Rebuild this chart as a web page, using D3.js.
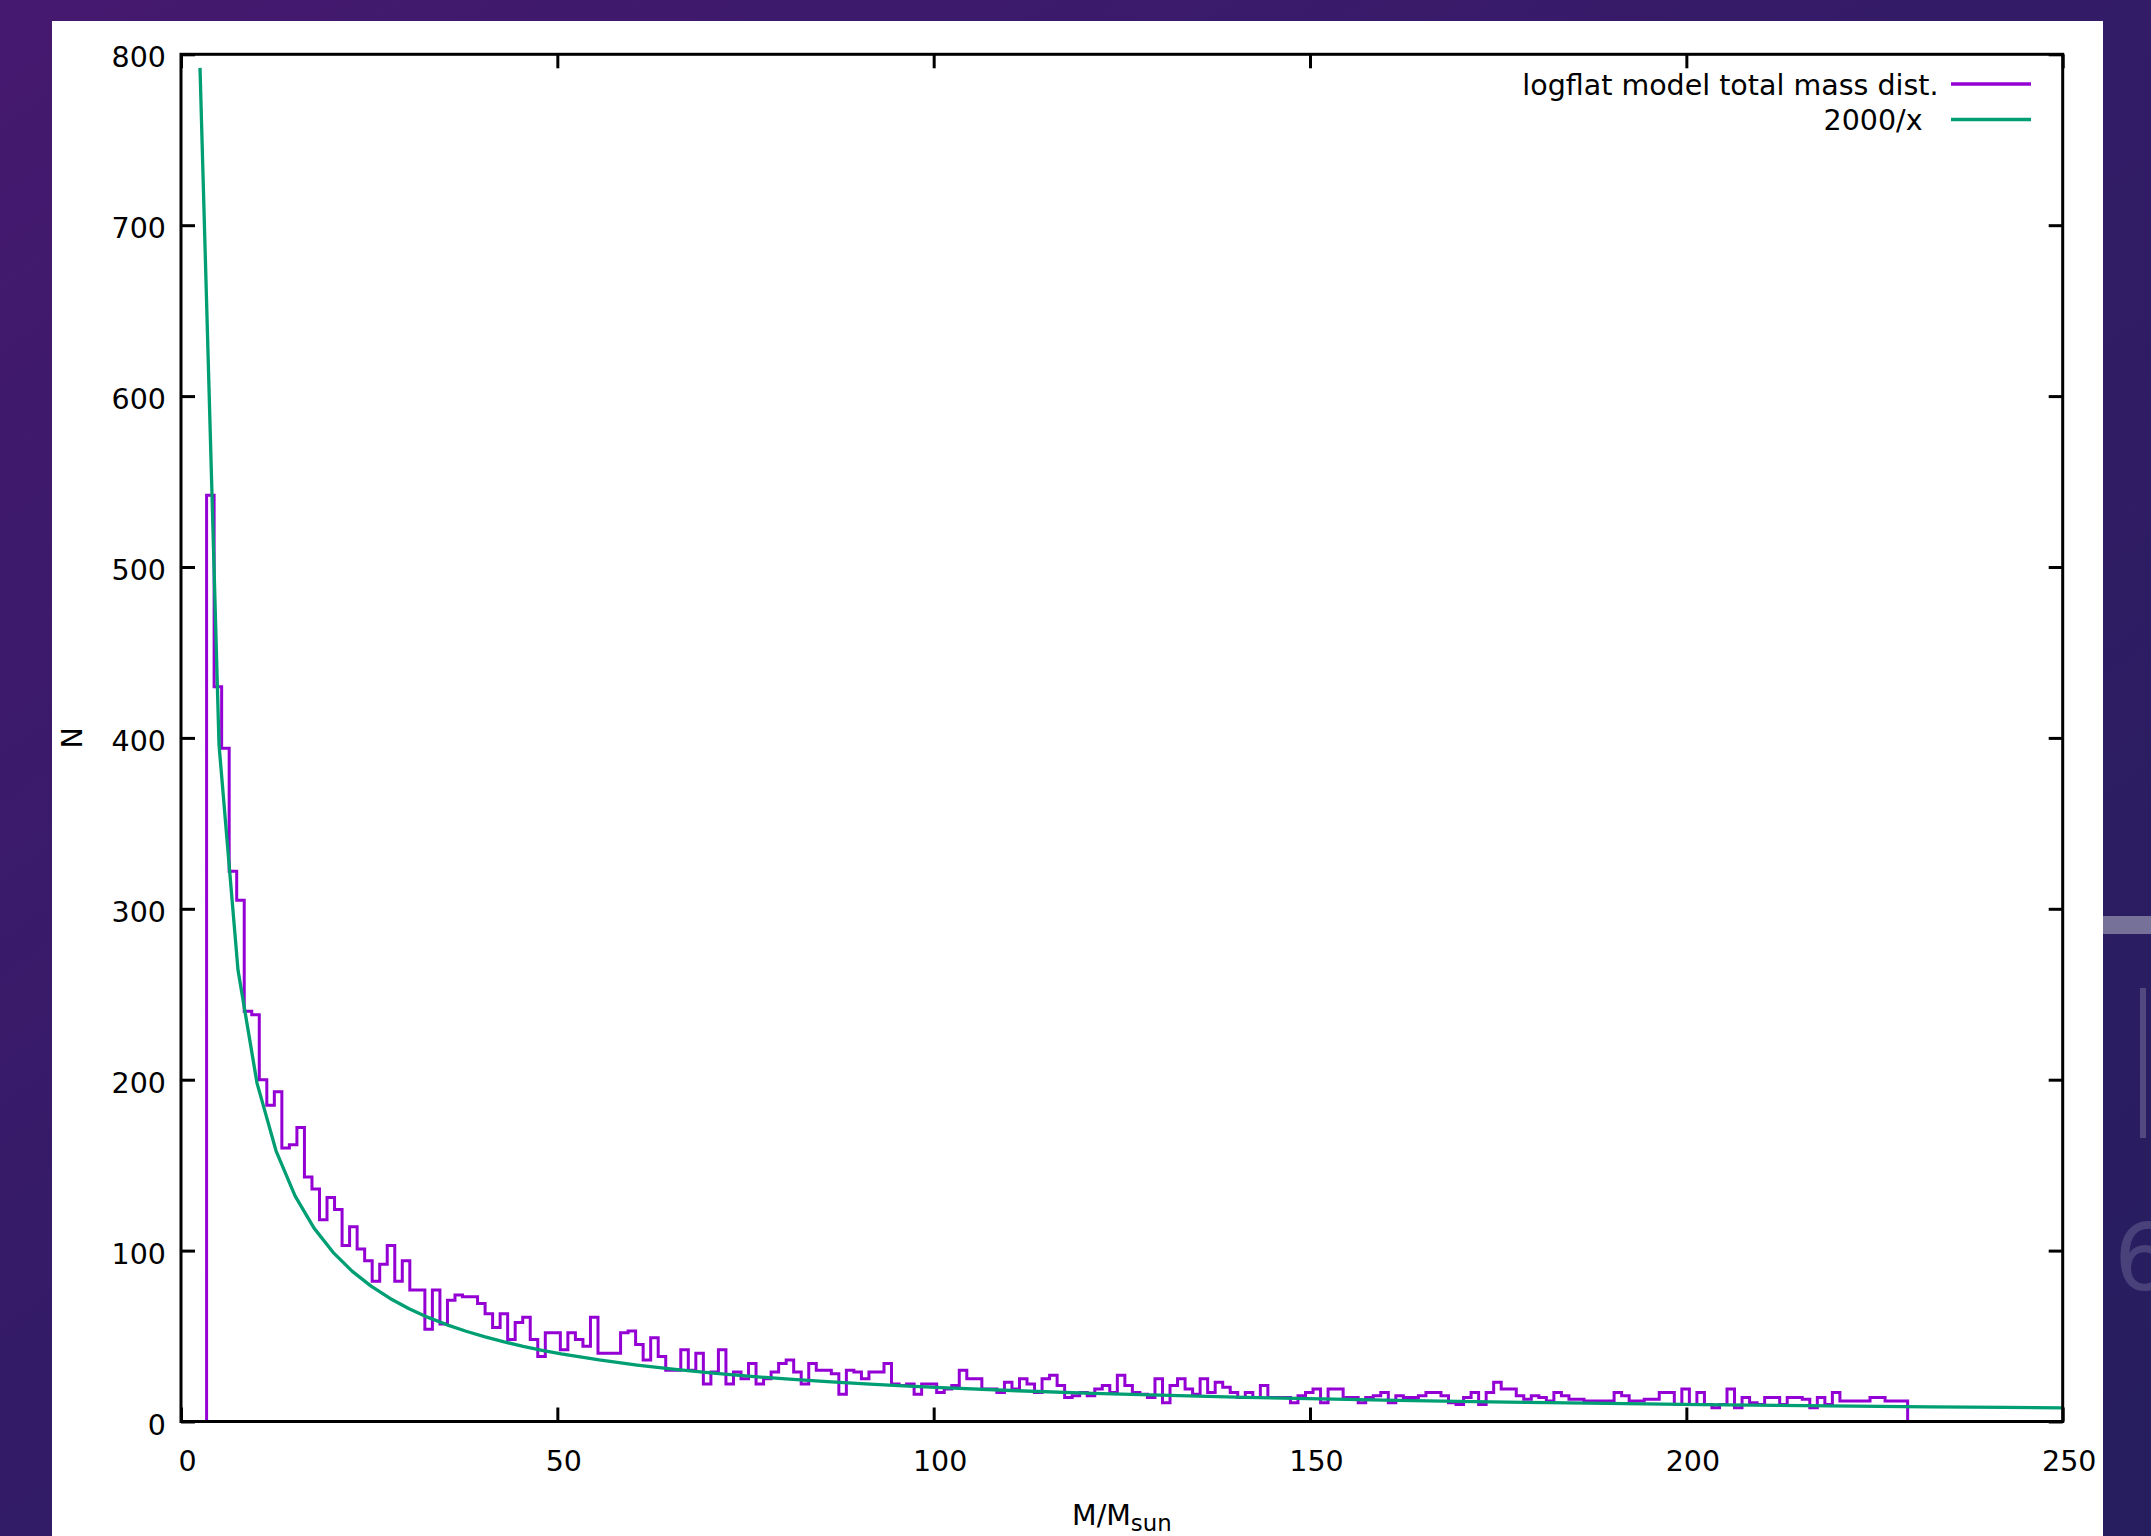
<!DOCTYPE html>
<html>
<head>
<meta charset="utf-8">
<script src="https://cdn.jsdelivr.net/npm/d3@7"></script>
<style>
  html, body { margin: 0; padding: 0; overflow: hidden; background: #2d1b60; }
  svg { display: block; }
  text { font-family: "DejaVu Sans", sans-serif; }
</style>
</head>
<body>
<svg id="chart" width="2151" height="1536"></svg>
<script>
// histogram of the total mass, one bin per solar mass
const binStart = 3.4
const binWidth = 1
const counts = [
  542, 430, 394, 322, 305, 240, 238, 200, 185, 193, 160, 162, 172, 143, 136, 118, 131, 124, 103, 114,
  101, 94, 82, 92, 103, 82, 94, 77, 77, 54, 77, 57, 71, 74, 73, 73, 69, 63, 55, 63,
  48, 58, 61, 48, 38, 52, 52, 42, 52, 48, 44, 61, 40, 40, 40, 52, 53, 45, 36, 49,
  38, 30, 30, 42, 30, 40, 22, 29, 42, 22, 29, 25, 34, 22, 25, 29, 34, 36, 29, 22,
  34, 30, 30, 28, 16, 30, 29, 25, 29, 29, 34, 22, 21, 22, 16, 22, 22, 17, 19, 21,
  30, 25, 25, 19, 19, 17, 23, 19, 25, 22, 17, 25, 27, 21, 14, 15, 17, 15, 19, 21,
  17, 27, 21, 17, 16, 14, 25, 11, 21, 25, 19, 16, 25, 17, 23, 20, 17, 14, 17, 14,
  21, 14, 14, 14, 11, 15, 17, 19, 11, 19, 19, 14, 14, 11, 14, 15, 17, 11, 15, 14,
  14, 15, 17, 17, 15, 11, 10, 14, 17, 10, 17, 23, 19, 19, 15, 13, 15, 14, 12, 17,
  15, 13, 13, 12, 12, 12, 12, 17, 15, 12, 12, 13, 13, 17, 17, 10, 19, 10, 17, 10,
  8, 10, 19, 8, 14, 11, 10, 14, 14, 10, 14, 14, 13, 8, 14, 10, 17, 12, 12, 12,
  12, 14, 14, 12, 12, 12
]

// the comparison curve is 2000/x, sampled where gnuplot put its samples
const curveNumerator = 2000
const curveX = [2.525, 5.051, 7.576, 10.101, 12.626, 15.152, 17.677, 20.202, 22.727, 25.253,
  27.778, 30.303, 32.828, 35.354, 37.879, 40.404, 42.929, 45.455, 47.980, 50.505,
  55.556, 60.606, 65.657, 70.707, 75.758, 80.808, 85.859, 90.909, 95.960, 101.01,
  111.11, 121.21, 131.31, 141.41, 151.52, 161.62, 171.72, 181.82, 191.92, 202.02,
  212.12, 222.22, 232.32, 242.42, 250]

const xTicks = [0, 50, 100, 150, 200, 250]
const yTicks = [0, 100, 200, 300, 400, 500, 600, 700, 800]
const seriesNames = ["logflat model total mass dist.", "2000/x"]
const seriesColors = ["#9400d3", "#009e73"]

function drawChart() {
  var svg = d3.select("#chart")
  const width = +svg.attr("width")
  const height = +svg.attr("height")
  const panel = {left: 52, top: 21, right: 2103}
  const plot = {left: 181, right: 2062.7, top: 54.3, bottom: 1421.5}
  const fontSize = 28.5
  const tickLen = 14
  const frameWidth = 3

  // purple slide background behind the white panel
  const defs = svg.append("defs")
  const grad = defs.append("linearGradient").attr("id", "bg")
    .attr("x1", 0).attr("y1", 0).attr("x2", 1).attr("y2", 1)
  grad.append("stop").attr("offset", 0).attr("stop-color", "#45196f")
  grad.append("stop").attr("offset", 0.45).attr("stop-color", "#341b68")
  grad.append("stop").attr("offset", 1).attr("stop-color", "#261e5e")
  svg.append("rect").attr("width", width).attr("height", height).attr("fill", "url(#bg)")

  // bits of the slide peeking out on the right
  svg.append("rect").attr("x", panel.right).attr("y", 916).attr("width", width - panel.right).attr("height", 18)
    .attr("fill", "#9795b0").attr("opacity", 0.7)
  svg.append("rect").attr("x", 2140).attr("y", 988).attr("width", 6).attr("height", 150)
    .attr("fill", "#7a76a0").attr("opacity", 0.5)
  svg.append("text").attr("x", 2114).attr("y", 1290).attr("font-size", 92)
    .attr("fill", "#5f5a8c").attr("opacity", 0.6).text("6")

  svg.append("rect")
    .attr("x", panel.left).attr("y", panel.top)
    .attr("width", panel.right - panel.left).attr("height", height - panel.top)
    .attr("fill", "#ffffff")

  // scales
  var x = d3.scaleLinear().domain([0, 250]).range([plot.left, plot.right])
  var y = d3.scaleLinear().domain([0, 800]).range([plot.bottom, plot.top])

  defs.append("clipPath").attr("id", "plotclip")
    .append("rect")
    .attr("x", plot.left).attr("y", plot.top)
    .attr("width", plot.right - plot.left).attr("height", plot.bottom - plot.top)

  // histogram drawn as steps
  const edges = counts.map((c, i) => binStart + i * binWidth)
  const binEnd = binStart + counts.length * binWidth
  const stepPoints = [[binStart, 0]]
    .concat(counts.map((c, i) => [edges[i], c]))
    .concat([[binEnd, counts[counts.length - 1]], [binEnd, 0]])
  const stepLine = d3.line().x(d => x(d[0])).y(d => y(d[1])).curve(d3.curveStepAfter)
  svg.append("path")
    .attr("d", stepLine(stepPoints))
    .attr("fill", "none")
    .attr("stroke", seriesColors[0])
    .attr("stroke-width", 3)
    .attr("clip-path", "url(#plotclip)")

  // 2000/x curve
  const curvePoints = curveX.map(v => [v, curveNumerator / v])
  svg.append("path")
    .attr("d", d3.line().x(d => x(d[0])).y(d => y(d[1]))(curvePoints))
    .attr("fill", "none")
    .attr("stroke", seriesColors[1])
    .attr("stroke-width", 3.3)
    .attr("stroke-linejoin", "round")
    .attr("clip-path", "url(#plotclip)")

  // axes, ticks point inward on all four sides
  const styleAxis = g => {
    g.attr("color", "#000").attr("font-family", null).attr("font-size", null)
    g.select(".domain").remove()
    g.selectAll(".tick line").attr("stroke-width", frameWidth)
  }
  svg.append("g").attr("transform", `translate(0,${plot.bottom})`)
    .call(d3.axisBottom(x).tickValues(xTicks).tickSizeInner(-tickLen).tickSizeOuter(0))
    .call(styleAxis)
    .call(g => g.selectAll(".tick text")
      .attr("y", 49.5).attr("dy", null).attr("dx", 6)
      .attr("font-size", fontSize).attr("fill", "#000"))
  svg.append("g").attr("transform", `translate(0,${plot.top})`)
    .call(d3.axisTop(x).tickValues(xTicks).tickSizeInner(-tickLen).tickSizeOuter(0).tickFormat(""))
    .call(styleAxis)
  svg.append("g").attr("transform", `translate(${plot.left},0)`)
    .call(d3.axisLeft(y).tickValues(yTicks).tickSizeInner(-tickLen).tickSizeOuter(0))
    .call(styleAxis)
    .call(g => g.selectAll(".tick text")
      .attr("x", -15).attr("dy", null).attr("y", 12.5)
      .attr("font-size", fontSize).attr("fill", "#000"))
  svg.append("g").attr("transform", `translate(${plot.right},0)`)
    .call(d3.axisRight(y).tickValues(yTicks).tickSizeInner(-tickLen).tickSizeOuter(0).tickFormat(""))
    .call(styleAxis)

  // plot border on top of the data
  svg.append("rect")
    .attr("x", plot.left).attr("y", plot.top)
    .attr("width", plot.right - plot.left).attr("height", plot.bottom - plot.top)
    .attr("fill", "none").attr("stroke", "#000").attr("stroke-width", frameWidth)

  // axis titles
  const xTitle = svg.append("text")
    .attr("x", (plot.left + plot.right) / 2)
    .attr("y", 1525)
    .attr("text-anchor", "middle")
    .attr("font-size", fontSize)
    .attr("fill", "#000")
  xTitle.append("tspan").text("M/M")
  xTitle.append("tspan").attr("dy", 6).attr("font-size", fontSize * 0.8).text("sun")
  svg.append("text")
    .attr("transform", `translate(82,${(plot.top + plot.bottom) / 2}) rotate(-90)`)
    .attr("text-anchor", "middle")
    .attr("font-size", fontSize)
    .attr("fill", "#000")
    .text("N")

  // key in the top right corner
  const legendTextEnd = [1938.5, 1922.5]
  const legendRowY = [84, 119.5]
  const legend = svg.append("g")
  seriesNames.forEach((name, i) => {
    legend.append("text")
      .attr("x", legendTextEnd[i])
      .attr("y", legendRowY[i] + 10.5)
      .attr("text-anchor", "end")
      .attr("font-size", fontSize)
      .attr("fill", "#000")
      .text(name)
    legend.append("line")
      .attr("x1", 1951).attr("x2", 2031)
      .attr("y1", legendRowY[i]).attr("y2", legendRowY[i])
      .attr("stroke", seriesColors[i])
      .attr("stroke-width", 3.3)
  })
}

document.addEventListener("DOMContentLoaded", () => {
  drawChart()
})
</script>
</body>
</html>
